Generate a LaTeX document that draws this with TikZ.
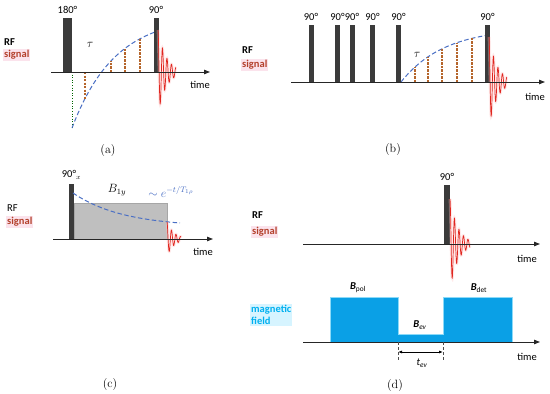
\documentclass[tikz,border=0pt]{standalone}
\usepackage{fontspec}
\newfontfamily\labelfont{Carlito}
\usetikzlibrary{positioning, arrows.meta}

\definecolor{pulsegray}{HTML}{3B3B3B}
\definecolor{sigred}{HTML}{B4412C}
\definecolor{sigpink}{HTML}{FBE3EC}
\definecolor{fidred}{HTML}{E0261F}
\definecolor{curveblue}{HTML}{4A6FC4}
\definecolor{dashbrown}{HTML}{B5652B}
\definecolor{fieldblue}{HTML}{0AA0E6}
\definecolor{fieldcyan}{HTML}{00B0F0}
\definecolor{fieldlight}{HTML}{D6F4FF}
\definecolor{plateau}{HTML}{BFBFBF}

\begin{document}
\labelfont\fontsize{10.5}{12}\selectfont
\begin{tikzpicture}[
    x=1pt, y=-1pt,
    declare function={
        recA(\t)=72-56*(1-2*exp(-(\t-72)/42.7));
        recB(\t)=82-54*(1-exp(-(\t-401)/43));
        decC(\t)=193+34*(1-exp(-(\t-73)/50));
    },
    pulse/.style={
        rectangle, fill=pulsegray, draw=none, inner sep=0pt,
        anchor=south, minimum width=5pt
    },
    deg/.style={inner sep=1pt},
    rflbl/.style={anchor=west, inner sep=1pt, font=\bfseries},
    siglbl/.style={anchor=west, inner sep=1pt, fill=sigpink, text=sigred, font=\bfseries},
    fieldlbl/.style={anchor=west, inner sep=1pt, fill=fieldlight, text=fieldcyan,
        font=\bfseries, align=left},
    timelbl/.style={inner sep=1pt},
    caplbl/.style={inner sep=1pt, font=\rmfamily\large},
    axis/.style={-{Triangle[length=6pt,width=4.5pt]}, line width=1pt, draw=black!85},
    recov/.style={draw=curveblue, line width=1pt, dash pattern=on 4.5pt off 2.5pt},
    tdash/.style={draw=dashbrown, line width=1.3pt, dash pattern=on 2.2pt off 1.3pt},
    fid/.style={draw=fidred, line width=0.7pt},
    fidglow/.style={draw=pink, line width=3pt, opacity=0.35},
    field/.style={fill=fieldblue, draw=cyan!45, line width=1pt},
    guide/.style={draw=black!70, densely dashed, line width=0.5pt},
    dimarr/.style={{Latex[length=4pt]}-{Latex[length=4pt]}, line width=0.8pt}
]
\useasboundingbox (0,0) rectangle (550,394);

% ---------------- Panel (a) ----------------
\node[rflbl] (rfA) at (3,42) {RF};
\node[siglbl] (sigA) at (3,55) {signal};

\draw[black!60!green, dotted, line width=0.6pt] (72,72) -- (72,128);
\draw[recov] plot[domain=72:155, samples=60] (\x, {recA(\x)});
\foreach \t in {85,111,125,140}
    \draw[tdash] (\t,72) -- (\t,{recA(\t)});

\node[pulse, minimum width=9pt, minimum height=54pt] (p180A) at (67.5,72) {};
\node[deg, above=3pt of p180A] (l180A) {180°};
\node[pulse, minimum height=54pt] (p90A) at (156,72) {};
\node[deg, above=3pt of p90A] (l90A) {90°};
\node (tauA) at (90,45) {\large$\tau$};

\draw[fidglow] plot[domain=0:18, samples=200] ({158+\x}, {72-42*exp(-\x/8)*cos(\x*80)});
\draw[fid] plot[domain=0:18, samples=200] ({158+\x}, {72-42*exp(-\x/8)*cos(\x*80)});
\draw[axis] (51,72) -- (210,72);
\node[timelbl] (timeA) at (200,85) {time};
\node[caplbl] (capA) at (108,151) {(a)};

% ---------------- Panel (b) ----------------
\node[rflbl] (rfB) at (241,50) {RF};
\node[siglbl] (sigB) at (241,65) {signal};

\draw[recov] plot[domain=401:487, samples=60] (\x, {recB(\x)});
\foreach \t in {415,428,442,457,472}
    \draw[tdash] (\t,82) -- (\t,{recB(\t)});

\foreach \px [count=\i] in {311,337.5,352,372.5,398.5,487.5} {
    \node[pulse, minimum height=57pt] (pB\i) at (\px,82) {};
    \node[deg, above=3pt of pB\i] (lB\i) {90°};
}
\node (tauB) at (417,55) {\large$\tau$};

\draw[fidglow] plot[domain=0:18, samples=200] ({489+\x}, {82-45*exp(-\x/8)*cos(\x*80)});
\draw[fid] plot[domain=0:18, samples=200] ({489+\x}, {82-45*exp(-\x/8)*cos(\x*80)});
\draw[axis] (291,82) -- (545,82);
\node[timelbl] (timeB) at (535,97) {time};
\node[caplbl] (capB) at (393,150) {(b)};

% ---------------- Panel (c) ----------------
\node[rflbl, font=\mdseries] (rfC) at (6,208) {RF};
\node[siglbl] (sigC) at (6,222) {signal};

\draw[fill=plateau, draw=black!35, line width=0.4pt] (74,239) rectangle (167,203);
\node[pulse, minimum height=55pt] (pC) at (71.5,239) {};
\node[deg, above=3pt of pC] (lC) {90°$_x$};
\draw[recov] plot[domain=73:180, samples=60] (\x, {decC(\x)});
\node (b1C) at (117,190) {\large$B_{1y}$};
\node[text=curveblue] (expC) at (171,192) {\large$\sim e^{-t/T_{1\rho}}$};

\draw[fidglow] plot[domain=0:14, samples=160] ({167+\x}, {239-17*exp(-\x/7)*cos(\x*80)});
\draw[fid] plot[domain=0:14, samples=160] ({167+\x}, {239-17*exp(-\x/7)*cos(\x*80)});
\draw[axis] (53,239) -- (213,239);
\node[timelbl] (timeC) at (203,252) {time};
\node[caplbl] (capC) at (110,385) {(c)};

% ---------------- Panel (d) ----------------
\node[rflbl] (rfD) at (251,215) {RF};
\node[siglbl] (sigD) at (251,232) {signal};

\node[pulse, minimum width=6pt, minimum height=59pt] (pD) at (447,244) {};
\node[deg, above=3pt of pD] (lD) {90°};
\draw[fidglow] plot[domain=0:20, samples=200] ({450+\x}, {244-45*exp(-\x/8)*cos(\x*80)});
\draw[fid] plot[domain=0:20, samples=200] ({450+\x}, {244-45*exp(-\x/8)*cos(\x*80)});
\draw[axis] (303,244) -- (540,244);
\node[timelbl] (timeD) at (527,259) {time};

\node[fieldlbl] (fieldD) at (250,315) {magnetic\\field};
\draw[field] (330,342) -- (330,297) -- (398,297) -- (398,334) -- (443,334)
    -- (443,297) -- (512,297) -- (512,342) -- cycle;
\draw[axis] (303,342) -- (540,342);
\node (bpol) at (358,288) {\textbf{\textit{B}}\textsubscript{pol}};
\node (bdet) at (479,288) {\textbf{\textit{B}}\textsubscript{det}};
\node (bev) at (420,325) {\textbf{\textit{B}}\textsubscript{\textit{ev}}};

\draw[guide] (398,342) -- (398,360);
\draw[guide] (443,342) -- (443,360);
\coordinate (evL) at (398,352);
\coordinate (evR) at (443,352);
\draw[dimarr] (evL) -- (evR);
\node (tev) at (422,363) {\textit{t}\textsubscript{\textit{ev}}};
\node[timelbl] (timeF) at (527,357) {time};
\node[caplbl] (capD) at (395,386) {(d)};

\end{tikzpicture}
\end{document}
